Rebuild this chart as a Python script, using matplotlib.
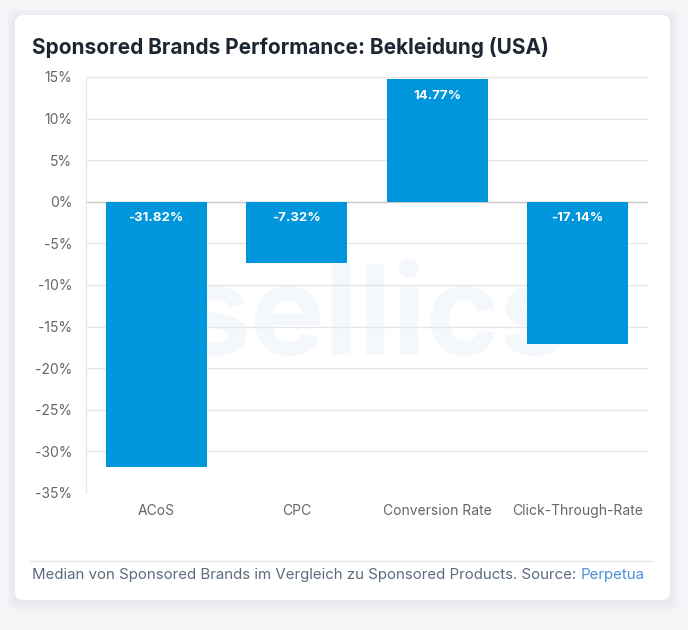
import matplotlib.pyplot as plt
from matplotlib.patches import FancyBboxPatch

categories = ["ACoS", "CPC", "Conversion Rate", "Click-Through-Rate"]
values = [-31.82, -7.32, 14.77, -17.14]
yticks = [15, 10, 5, 0, -5, -10, -15, -20, -25, -30, -35]

plt.rcParams['font.family'] = ['Inter', 'DejaVu Sans']

fig = plt.figure(figsize=(6.88, 6.3), dpi=100)
fig.patch.set_facecolor('#f4f5f7')

# card with soft shadow
for i, a in enumerate([0.03, 0.03, 0.04]):
    d = (3 - i) * 0.004
    fig.patches.append(FancyBboxPatch((15 / 688 - d, 1 - 600 / 630 - d - 0.004), 655 / 688 + 2 * d, 585 / 630 + 2 * d,
                                      boxstyle="round,pad=0,rounding_size=0.012", transform=fig.transFigure,
                                      facecolor='#8090a8', edgecolor='none', alpha=a, zorder=0))
fig.patches.append(FancyBboxPatch((15 / 688, 1 - 600 / 630), 655 / 688, 585 / 630,
                                  boxstyle="round,pad=0,rounding_size=0.012", transform=fig.transFigure,
                                  facecolor='white', edgecolor='none', zorder=1))

ax = fig.add_axes([86 / 688, 1 - 493 / 630, 562 / 688, 416 / 630])
ax.set_facecolor('none')
ax.set_zorder(2)

x = range(len(categories))
bars = ax.bar(x, values, width=0.72, color='#0096db', zorder=3)
for xi, v in zip(x, values):
    if v < 0:
        y = -2.0
    else:
        y = v - 2.0
    ax.text(xi, y, f"{v:.2f}%", ha='center', va='center', color='white',
            fontsize=9.5, fontweight='bold', zorder=4)

ax.set_xlim(-0.5, 3.5)
ax.set_ylim(-35, 15)
ax.set_yticks(yticks)
ax.set_yticklabels([f"{t}%" for t in yticks])
ax.set_xticks(list(x))
ax.set_xticklabels(categories)
ax.tick_params(axis='y', length=0, pad=10, labelsize=10, labelcolor='#666666')
ax.tick_params(axis='x', length=0, pad=8, labelsize=10, labelcolor='#666666')
ax.grid(axis='y', color='#e6e6e6', linewidth=1, zorder=0)
for s in ['top', 'right', 'bottom']:
    ax.spines[s].set_visible(False)
ax.spines['left'].set_color('#e6e6e6')
ax.axhline(0, color='#cccccc', linewidth=1, zorder=2)

# watermark
fig.text(375 / 688, 1 - 322 / 630, "sellics", ha='center', va='center', fontsize=90,
         fontweight='bold', color='#f4f8fc', zorder=1.5)

fig.text(32 / 688, 1 - 47 / 630, "Sponsored Brands Performance: Bekleidung (USA)",
         ha='left', va='center', fontsize=15, fontweight='bold', color='#1d2733', zorder=3)

fig.add_artist(plt.Line2D([30 / 688, 652 / 688], [1 - 561 / 630, 1 - 561 / 630],
                          transform=fig.transFigure, color='#e6e8eb', linewidth=1, zorder=3))
t1 = fig.text(32 / 688, 1 - 575 / 630,
              "Median von Sponsored Brands im Vergleich zu Sponsored Products. Source: ",
              ha='left', va='center', fontsize=10.8, color='#5b6b7d', zorder=3)
fig.canvas.draw()
bb = t1.get_window_extent()
fig.text(bb.x1 / fig.bbox.width, 1 - 575 / 630, "Perpetua", ha='left', va='center',
         fontsize=10.8, color='#4a90d9', zorder=3)

fig.savefig('out.png', dpi=100, facecolor=fig.get_facecolor())
